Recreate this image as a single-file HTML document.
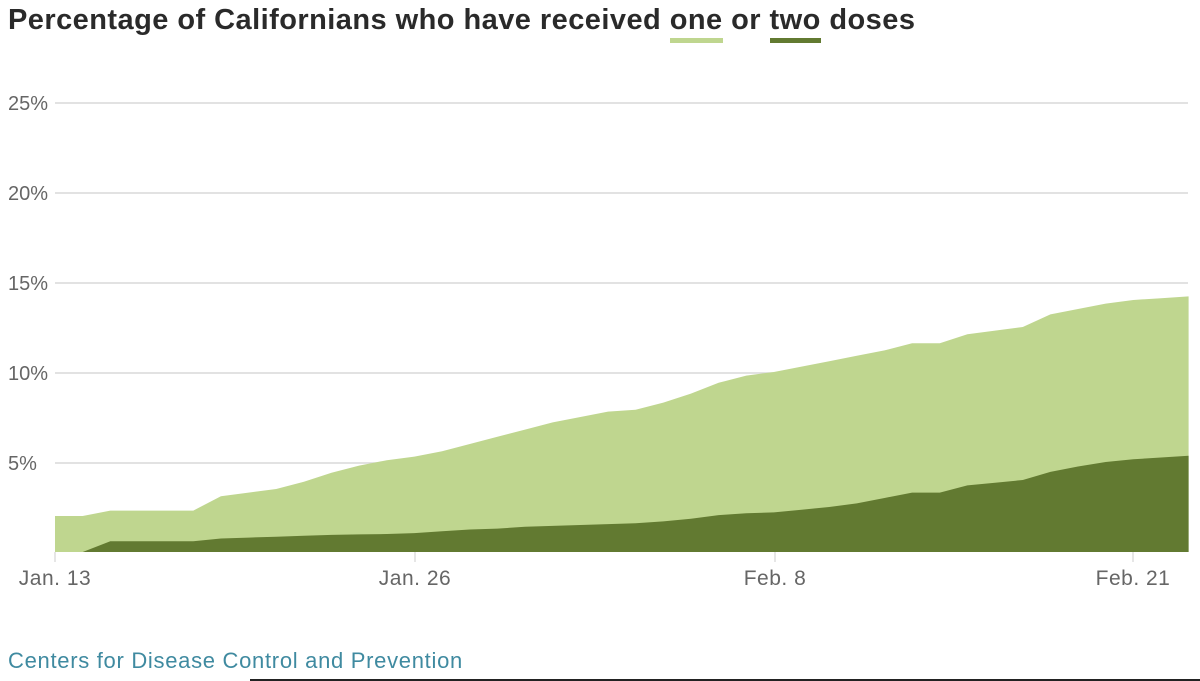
<!DOCTYPE html>
<html><head><meta charset="utf-8"><style>
body{margin:0;width:1200px;height:681px;background:#fff;overflow:hidden;font-family:"Liberation Sans",sans-serif;}
.t{position:absolute;left:8px;top:4px;font-size:29px;font-weight:bold;color:#2a2a2a;white-space:nowrap;letter-spacing:0.45px;}
.u1{border-bottom:5px solid #bfd68f;padding-bottom:2px}
.u2{border-bottom:5px solid #627a31;padding-bottom:2px}
svg{position:absolute;left:0;top:0}
</style></head><body>
<div class="t">Percentage of Californians who have received <span class="u1">one</span> or <span class="u2">two</span> doses</div>
<svg width="1200" height="681" font-family="Liberation Sans, sans-serif">
<g stroke="#d8d8d8" stroke-width="1.5">
<line x1="55" x2="1188" y1="103" y2="103"/><line x1="55" x2="1188" y1="193" y2="193"/>
<line x1="55" x2="1188" y1="283" y2="283"/><line x1="55" x2="1188" y1="373" y2="373"/>
<line x1="55" x2="1188" y1="463" y2="463"/>
</g>
<g font-size="20" fill="#666">
<text x="8" y="110">25%</text><text x="8" y="200">20%</text><text x="8" y="290">15%</text><text x="8" y="380">10%</text><text x="8" y="470">5%</text>
</g>
<polygon id="light" fill="#bfd68f"/>
<polygon id="dark" fill="#627a31"/>
<g stroke="#ccc"><line x1="55" x2="55" y1="552" y2="562"/><line x1="415" x2="415" y1="552" y2="562"/><line x1="775" x2="775" y1="552" y2="562"/><line x1="1133" x2="1133" y1="552" y2="562"/></g>
<g font-size="21" fill="#666" text-anchor="middle" letter-spacing="0.5">
<text x="55" y="585">Jan. 13</text><text x="415" y="585">Jan. 26</text><text x="775" y="585">Feb. 8</text><text x="1133" y="585">Feb. 21</text>
</g>
<text x="8" y="668" font-size="22" fill="#3f8aa0" letter-spacing="0.7">Centers for Disease Control and Prevention</text>
<line x1="250" x2="1200" y1="680" y2="680" stroke="#222" stroke-width="2"/>
</svg>
<script>
var L=[2.0,2.0,2.3,2.3,2.3,2.3,3.1,3.3,3.5,3.9,4.4,4.8,5.1,5.3,5.6,6.0,6.4,6.8,7.2,7.5,7.8,7.9,8.3,8.8,9.4,9.8,10.0,10.3,10.6,10.9,11.2,11.6,11.6,12.1,12.3,12.5,13.2,13.5,13.8,14.0,14.1,14.2];
var D=[0,0,0.6,0.6,0.6,0.6,0.75,0.8,0.85,0.9,0.95,0.98,1.0,1.05,1.15,1.25,1.3,1.4,1.45,1.5,1.55,1.6,1.7,1.85,2.05,2.15,2.2,2.35,2.5,2.7,3.0,3.3,3.3,3.7,3.85,4.0,4.45,4.75,5.0,5.15,5.25,5.35];
function pts(a){var s=[];for(var i=0;i<a.length;i++){s.push((55+i*27.65).toFixed(1)+","+(552-18*a[i]).toFixed(1));}s.push((55+(a.length-1)*27.65).toFixed(1)+",552");s.push("55,552");return s.join(" ");}
document.getElementById("light").setAttribute("points",pts(L));
document.getElementById("dark").setAttribute("points",pts(D));
</script>
</body></html>
